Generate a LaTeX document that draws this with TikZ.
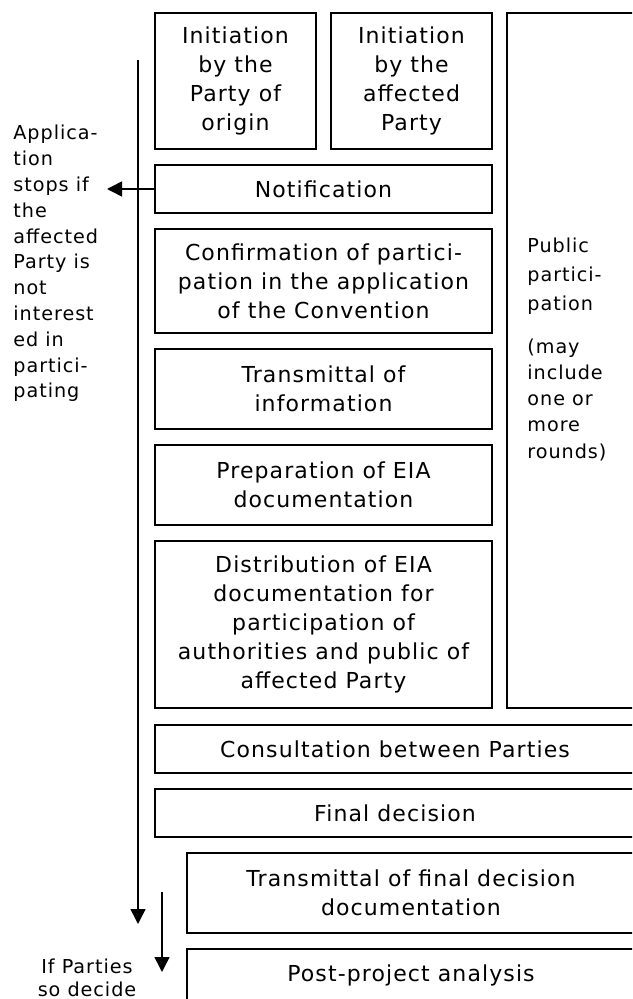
\documentclass[tikz,border=0pt]{standalone}
\usepackage{fontspec}
\setmainfont{DejaVu Sans}
\newfontfamily\diagfont[LetterSpace=5]{DejaVu Sans}
\usetikzlibrary{positioning,arrows.meta}

\begin{document}
\begin{tikzpicture}[x=0.5pt, y=-0.5pt,
    stage/.style={rectangle, draw=black, line width=1pt, inner sep=0pt, minimum width=168.5pt, align=center, font=\diagfont\fontsize{11}{14.4}\selectfont},
    initbox/.style={stage, minimum width=80.5pt, minimum height=68pt},
    longbox/.style={stage, minimum width=240pt, minimum height=24pt},
    sidetext/.style={inner sep=0pt, align=left, font=\diagfont\fontsize{9.6}{12.9}\selectfont},
    flow/.style={line width=0.8pt, -{Triangle[length=7.5pt,width=7.5pt]}},
    node distance=7pt
]
    \path[use as bounding box] (0,0) rectangle (632,999);
    \clip (0,0) rectangle (632,999);

    % first row
    \node[initbox, anchor=north west] (initOrigin) at (154,12) {Initiation\\by the\\Party of\\origin};
    \node[initbox, right=6.5pt of initOrigin] (initAffected) {Initiation\\by the\\affected\\Party};
    \node[rectangle, draw=black, line width=1pt, minimum width=64pt, minimum height=347.5pt, right=6.5pt of initAffected.north east, anchor=north west] (public) {};

    % main column
    \node[stage, minimum height=24pt, below=7pt of initOrigin.south west, anchor=north west] (notif) {Notification};
    \node[stage, minimum height=52pt, below=of notif] (confirm) {Confirmation of partici-\\pation in the application\\of the Convention};
    \node[stage, minimum height=40pt, below=of confirm] (transInfo) {Transmittal of\\information};
    \node[stage, minimum height=40pt, below=of transInfo] (prepEIA) {Preparation of EIA\\documentation};
    \node[stage, minimum height=83.5pt, below=of prepEIA] (distEIA) {Distribution of EIA\\documentation for\\participation of\\authorities and public of\\affected Party};

    % lower rows
    \node[longbox, below=7.5pt of distEIA.south west, anchor=north west] (consult) {Consultation between Parties};
    \node[longbox, below=of consult] (final) {Final decision};
    \node[longbox, minimum width=224pt, minimum height=40pt, below=7pt of final.south east, anchor=north east] (transFinal) {Transmittal of final decision\\documentation};
    \node[longbox, minimum width=224pt, minimum height=26pt, below=of transFinal] (postProj) {Post-project analysis};

    % side texts
    \node[sidetext, font=\diagfont\fontsize{9.6}{14.5}\selectfont, anchor=north west] (pubHead) at (527,238) {Public\\partici-\\pation};
    \node[sidetext, font=\diagfont\fontsize{9.6}{13.1}\selectfont, below=11.5pt of pubHead.south west, anchor=north west] (pubNote) {(may\\include\\one or\\more\\rounds)};
    \node[sidetext, anchor=north west] (stopNote) at (13,125) {Applica-\\tion\\stops if\\the\\affected\\Party is\\not\\interest\\ed in\\partici-\\pating};
    \node[sidetext, align=center, font=\diagfont\fontsize{9.6}{11.5}\selectfont] (decideNote) at (87,978) {If Parties\\so decide};

    % arrows
    \coordinate (mainTop) at (138,60);
    \coordinate (mainEnd) at (138,924);
    \coordinate (stopTip) at ([xshift=-23.5pt]notif.west);
    \coordinate (decideTop) at (162,892);
    \coordinate (decideEnd) at (162,972);
    \draw[flow] (mainTop) -- (mainEnd);
    \draw[flow] (notif.west) -- (stopTip);
    \draw[flow] (decideTop) -- (decideEnd);
\end{tikzpicture}
\end{document}
